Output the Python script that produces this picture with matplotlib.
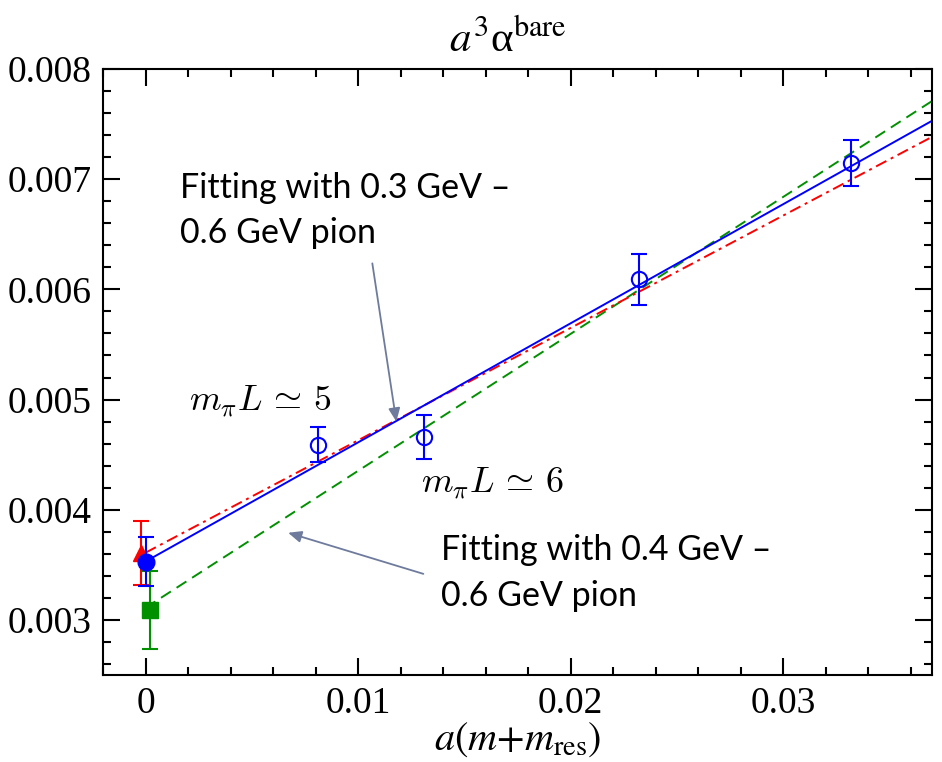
import numpy as np
import matplotlib
matplotlib.use("Agg")
import matplotlib.pyplot as plt
from matplotlib.ticker import MultipleLocator, FixedFormatter, FixedLocator

# ---- data ----
lat_x = [0.0081, 0.0131, 0.0232, 0.0332]
lat_y = [0.00459, 0.00466, 0.00609, 0.00715]
lat_err = [0.00016, 0.00020, 0.00023, 0.00021]

# chiral-limit extrapolations: (x, y, err)
extrap_x = [-0.0002, 0.0, 0.0002]
extrap_y = [0.00361, 0.00353, 0.00309]
extrap_err = [0.00029, 0.00022, 0.00035]

# linear fits: intercept, slope
fit_names = ["red", "blue", "green"]
fit_b = [0.00361, 0.00353, 0.00311]
fit_m = [0.1020, 0.1081, 0.1243]
fit_x = [0.0, 0.037]

xticks = [0.0, 0.01, 0.02, 0.03]
xticklabels = ["0", "0.01", "0.02", "0.03"]
yticks = [0.003, 0.004, 0.005, 0.006, 0.007, 0.008]
yticklabels = ["0.003", "0.004", "0.005", "0.006", "0.007", "0.008"]

RED, BLUE, GREEN = "#ff0000", "#0000ff", "#009000"
ARROW = "#6e7b9c"

plt.rcParams["font.family"] = "serif"
plt.rcParams["font.serif"] = ["Liberation Serif", "DejaVu Serif"]
SERIF = ["Liberation Serif", "DejaVu Serif"]

fig = plt.figure(figsize=(9.42, 7.62), dpi=100)
ax = fig.add_axes([103 / 942, 1 - 675 / 762, 829 / 942, 606 / 762])

# fit lines
fx = np.array(fit_x)
ax.plot(fx, fit_b[2] + fit_m[2] * fx, color=GREEN, lw=1.4, dashes=(6, 3.5))
ax.plot(fx, fit_b[0] + fit_m[0] * fx, color=RED, lw=1.4, dashes=(6, 2.5, 1.5, 2.5))
ax.plot(fx, fit_b[1] + fit_m[1] * fx, color=BLUE, lw=1.4)

# lattice points
ax.errorbar(lat_x, lat_y, yerr=lat_err, fmt="o", mfc="none", mec=BLUE, ecolor=BLUE,
            ms=11, mew=1.5, elinewidth=1.5, capsize=6, capthick=1.5)

# extrapolated values
markers = ["^", "o", "s"]
cols = [RED, BLUE, GREEN]
sizes = [11, 12, 11]
for i in range(3):
    ax.errorbar(extrap_x[i], extrap_y[i], yerr=extrap_err[i], fmt=markers[i],
                color=cols[i], ms=sizes[i], elinewidth=1.5, capsize=6, capthick=1.5,
                zorder=3 + i if i != 1 else 6)

ax.set_xlim(-0.002, 0.037)
ax.set_ylim(0.0025, 0.008)
ax.xaxis.set_major_locator(FixedLocator(xticks))
ax.xaxis.set_major_formatter(FixedFormatter(xticklabels))
ax.yaxis.set_major_locator(FixedLocator(yticks))
ax.yaxis.set_major_formatter(FixedFormatter(yticklabels))
ax.xaxis.set_minor_locator(MultipleLocator(0.002))
ax.yaxis.set_minor_locator(MultipleLocator(0.0002))
ax.tick_params(which="both", direction="in", top=True, right=True, width=1.5,
               labelsize=27, pad=8)
ax.tick_params(which="major", length=12)
ax.tick_params(which="minor", length=6)
for lbl in ax.get_xticklabels() + ax.get_yticklabels():
    lbl.set_family(SERIF)
for s in ax.spines.values():
    s.set_linewidth(1.5)

ax.set_title(r"$a^3$" + "\u03b1" + r"$^{\mathrm{bare}}$", fontsize=31, family=SERIF,
             math_fontfamily="stix", pad=12, x=0.488)
ax.set_xlabel(r"$a(m{+}m_{\mathrm{res}})$", fontsize=29, family=SERIF,
              math_fontfamily="stix", labelpad=0)

# annotations
sans = ["Lato", "DejaVu Sans"]
fs = 24.5
ax.text(0.00163, 0.006827, "Fitting with 0.3 GeV \u2013", family=sans, fontsize=fs)
ax.text(0.00163, 0.006418, "0.6 GeV pion", family=sans, fontsize=fs)
ax.text(0.01392, 0.003545, "Fitting with 0.4 GeV \u2013", family=sans, fontsize=fs)
ax.text(0.01392, 0.003127, "0.6 GeV pion", family=sans, fontsize=fs)

ax.text(0.00205, 0.0049, r"$m_\pi L\,\simeq\,5$", fontsize=26, math_fontfamily="cm")
ax.text(0.01298, 0.004155, r"$m_\pi L\,\simeq\,6$", fontsize=26, math_fontfamily="cm")

arrow = dict(arrowstyle="-|>,head_length=0.8,head_width=0.35", color=ARROW, lw=1.3,
             shrinkA=0, shrinkB=0)
ax.annotate("", xy=(0.0118, 0.0048), xytext=(0.01067, 0.006236), arrowprops=arrow)
ax.annotate("", xy=(0.00671, 0.003791), xytext=(0.01307, 0.003418), arrowprops=arrow)

fig.savefig("out.png", dpi=100)
